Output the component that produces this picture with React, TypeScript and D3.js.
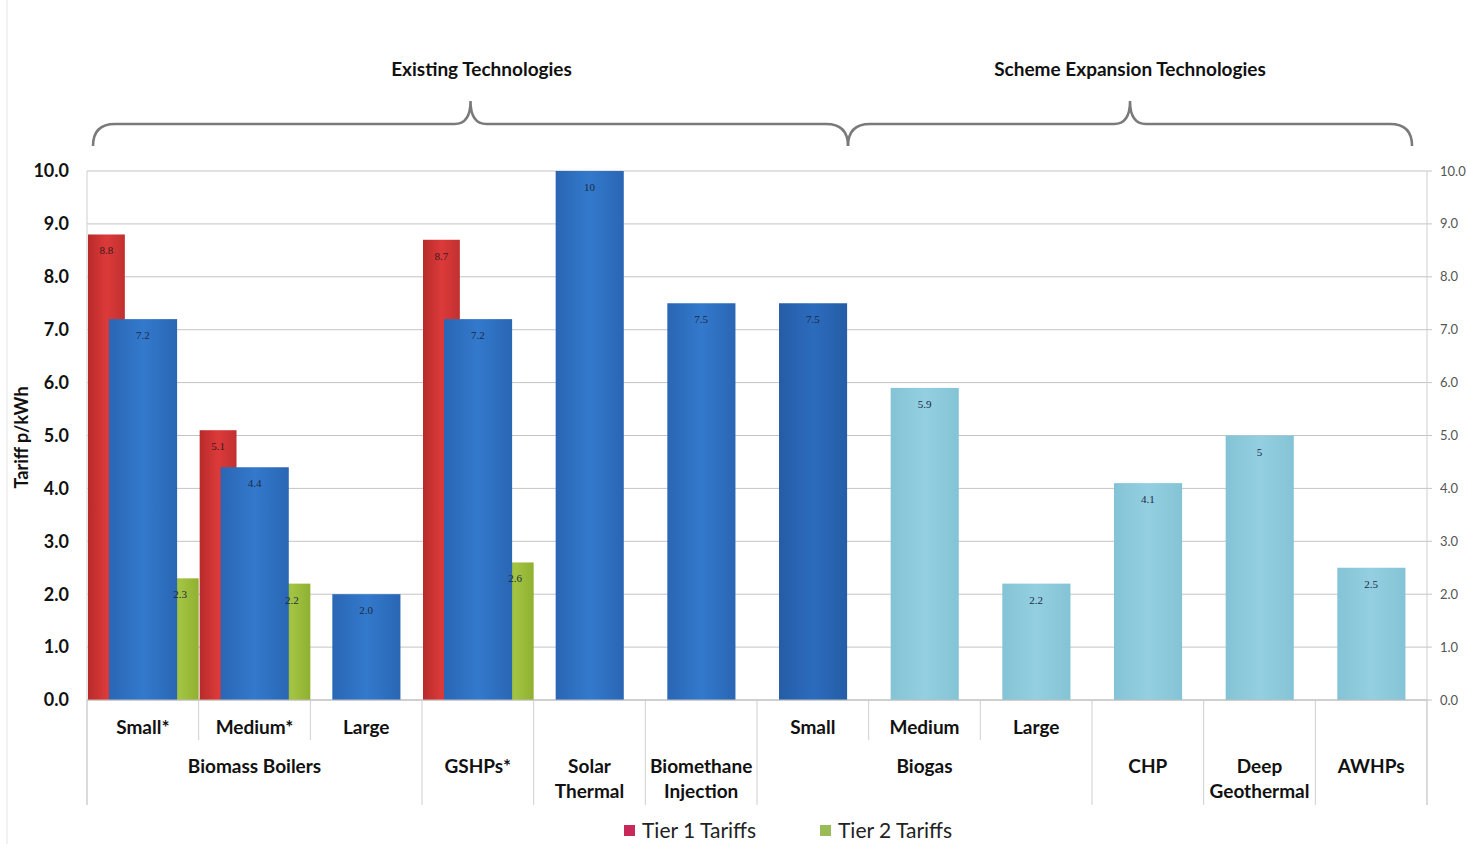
import React from "react";
import * as d3 from "d3";

const categories = ["Small*", "Medium*", "Large", "", "", "", "Small", "Medium", "Large", "", "", ""];
const groupLabels = [["Biomass Boilers"], ["GSHPs*"], ["Solar", "Thermal"], ["Biomethane", "Injection"], ["Biogas"], ["CHP"], ["Deep", "Geothermal"], ["AWHPs"]];
const groupSpans = [3, 1, 1, 1, 3, 1, 1, 1];
const tier1 = [8.8, 5.1, null, 8.7, null, null, null, null, null, null, null, null];
const tariff = [7.2, 4.4, 2.0, 7.2, 10, 7.5, 7.5, 5.9, 2.2, 4.1, 5, 2.5];
const tariffLabels = ["7.2", "4.4", "2.0", "7.2", "10", "7.5", "7.5", "5.9", "2.2", "4.1", "5", "2.5"];
const tier2 = [2.3, 2.2, null, 2.6, null, null, null, null, null, null, null, null];
const existing = [true, true, true, true, true, true, true, false, false, false, false, false];
const yTicks = [0, 1, 2, 3, 4, 5, 6, 7, 8, 9, 10];
const brackets = [
  { label: "Existing Technologies", from: 0.054, to: 6.815, textShift: 11 },
  { label: "Scheme Expansion Technologies", from: 6.815, to: 11.866, textShift: 0 },
];
const legendItems = [
  { label: "Tier 1 Tariffs", color: "#c8285a" },
  { label: "Tier 2 Tariffs", color: "#9bbb59" },
];

const W = 1467, H = 844;
const L = 87, R = 1427, T = 171, B = 700;
const FONT = "Lato, 'Open Sans', sans-serif";

function brace(x0: number, x1: number, yEnd: number, yLine: number, yPeak: number) {
  const xm = (x0 + x1) / 2;
  const c = 22;
  const c2 = 16;
  return `M${x0},${yEnd} Q${x0},${yLine} ${x0 + c},${yLine} L${xm - c2},${yLine} Q${xm},${yLine} ${xm},${yPeak} Q${xm},${yLine} ${xm + c2},${yLine} L${x1 - c},${yLine} Q${x1},${yLine} ${x1},${yEnd}`;
}

export default function App() {
  const idx = categories.map((_, i) => i);
  const x = d3.scaleBand<number>().domain(idx).range([L, R]).padding(0);
  const y = d3.scaleLinear().domain([0, 10]).range([B, T]);
  const bw = x.bandwidth();
  const xc = d3.scaleLinear().domain([0, categories.length]).range([L, R]);

  const groupStarts: number[] = [];
  let acc = 0;
  groupSpans.forEach((s) => { groupStarts.push(acc); acc += s; });

  const longSeps = new Set<number>([0, ...groupStarts, categories.length]);

  return (
    <div style={{ position: "absolute", left: 0, top: 0 }}>
      <svg width={W} height={H} style={{ display: "block", background: "#fff" }} fontFamily={FONT}>
        <defs>
          <linearGradient id="gRed" x1="0" x2="1" y1="0" y2="0">
            <stop offset="0" stopColor="#b82a2a" />
            <stop offset="0.5" stopColor="#dc3a3a" />
            <stop offset="1" stopColor="#c23030" />
          </linearGradient>
          <linearGradient id="gBlue" x1="0" x2="1" y1="0" y2="0">
            <stop offset="0" stopColor="#2a66b4" />
            <stop offset="0.5" stopColor="#3379cc" />
            <stop offset="1" stopColor="#2a66b4" />
          </linearGradient>
          <linearGradient id="gBlueDark" x1="0" x2="1" y1="0" y2="0">
            <stop offset="0" stopColor="#255da6" />
            <stop offset="0.5" stopColor="#2c6bbd" />
            <stop offset="1" stopColor="#255da6" />
          </linearGradient>
          <linearGradient id="gGreen" x1="0" x2="1" y1="0" y2="0">
            <stop offset="0" stopColor="#8fb030" />
            <stop offset="0.5" stopColor="#a3c443" />
            <stop offset="1" stopColor="#8fb030" />
          </linearGradient>
          <linearGradient id="gLight" x1="0" x2="1" y1="0" y2="0">
            <stop offset="0" stopColor="#84c3d6" />
            <stop offset="0.5" stopColor="#93cfe0" />
            <stop offset="1" stopColor="#84c3d6" />
          </linearGradient>
        </defs>

        <line x1={7} x2={7} y1={0} y2={H} stroke="#e4e4e4" strokeWidth={1} />

        {yTicks.map((t) => (
          <line key={"g" + t} x1={L} x2={R + 5} y1={y(t)} y2={y(t)} stroke="#c4c4c4" strokeWidth={1} />
        ))}
        <line x1={L} x2={L} y1={T} y2={805} stroke="#cfcfcf" />
        <line x1={R} x2={R} y1={T} y2={805} stroke="#cfcfcf" />

        {yTicks.map((t) => (
          <text key={"yl" + t} x={69} y={y(t)} dy="0.35em" textAnchor="end" fontSize={18} fontWeight={700} fill="#111">
            {t.toFixed(1)}
          </text>
        ))}
        {yTicks.map((t) => (
          <text key={"yr" + t} x={1440} y={y(t)} dy="0.35em" textAnchor="start" fontSize={13} fill="#555">
            {t.toFixed(1)}
          </text>
        ))}
        <text transform={`translate(28,${(T + B) / 2 + 2}) rotate(-90)`} textAnchor="middle" fontSize={18} fontWeight={700} fill="#111">
          Tariff p/kWh
        </text>

        {tier1.map((v, i) => v == null ? null : (
          <g key={"t1" + i}>
            <rect x={x(i)! + bw * 0.009} width={bw * 0.33} y={y(v)} height={B - y(v)} fill="url(#gRed)" />
            <text x={x(i)! + bw * 0.009 + bw * 0.165} y={y(v) + 20} textAnchor="middle" fontSize={11} fill="#3a1a1a" fontFamily="'Liberation Serif', serif">{v.toFixed(1)}</text>
          </g>
        ))}
        {tier2.map((v, i) => v == null ? null : (
          <g key={"t2" + i}>
            <rect x={x(i)! + bw * 0.67} width={bw * 0.33} y={y(v)} height={B - y(v)} fill="url(#gGreen)" />
          </g>
        ))}
        {tariff.map((v, i) => (
          <rect key={"m" + i} x={x(i)! + bw * 0.197} width={bw * 0.61} y={y(v)} height={B - y(v)}
            fill={existing[i] ? (i === 6 ? "url(#gBlueDark)" : "url(#gBlue)") : "url(#gLight)"} />
        ))}
        {tariff.map((v, i) => (
          <text key={"ml" + i} x={x(i)! + bw * 0.5} y={y(v) + 20} textAnchor="middle" fontSize={11} fill="#1b2a44" fontFamily="'Liberation Serif', serif">{tariffLabels[i]}</text>
        ))}
        {tier2.map((v, i) => v == null ? null : (
          <text key={"t2l" + i} x={x(i)! + bw * 0.835} y={y(v) + 20} textAnchor="middle" fontSize={11} fill="#1b2a44" fontFamily="'Liberation Serif', serif">{v.toFixed(1)}</text>
        ))}

        <line x1={L} x2={R} y1={B} y2={B} stroke="#bdbdbd" />

        {d3.range(categories.length + 1).map((k) => (
          <line key={"s" + k} x1={xc(k)} x2={xc(k)} y1={B} y2={longSeps.has(k) ? 805 : 740} stroke="#cfcfcf" />
        ))}

        {categories.map((c, i) => c ? (
          <text key={"c" + i} x={x(i)! + bw / 2} y={734} textAnchor="middle" fontSize={19} fontWeight={700} fill="#111">{c}</text>
        ) : null)}

        {groupLabels.map((lines, gi) => {
          const cx = (xc(groupStarts[gi]) + xc(groupStarts[gi] + groupSpans[gi])) / 2;
          return (
            <text key={"gl" + gi} x={cx} y={773} textAnchor="middle" fontSize={19} fontWeight={700} fill="#111">
              {lines.map((ln, li) => (
                <tspan key={li} x={cx} dy={li === 0 ? 0 : 25}>{ln}</tspan>
              ))}
            </text>
          );
        })}

        {brackets.map((b, bi) => {
          const x0 = xc(b.from);
          const x1 = xc(b.to);
          const xm = (x0 + x1) / 2;
          return (
            <g key={"b" + bi}>
              <path d={brace(x0, x1, 146, 124, 101)} fill="none" stroke="#7a7a7a" strokeWidth={2.5} />
              <text x={xm + b.textShift} y={76} textAnchor="middle" fontSize={19} fontWeight={700} fill="#111">{b.label}</text>
            </g>
          );
        })}

        {legendItems.map((it, li) => {
          const lx = li === 0 ? 624 : 820;
          return (
            <g key={"lg" + li}>
              <rect x={lx} y={825} width={11} height={11} fill={it.color} />
              <text x={lx + 18} y={838} fontSize={21} fill="#222" fontFamily="Lato, sans-serif">{it.label}</text>
            </g>
          );
        })}
      </svg>
    </div>
  );
}
